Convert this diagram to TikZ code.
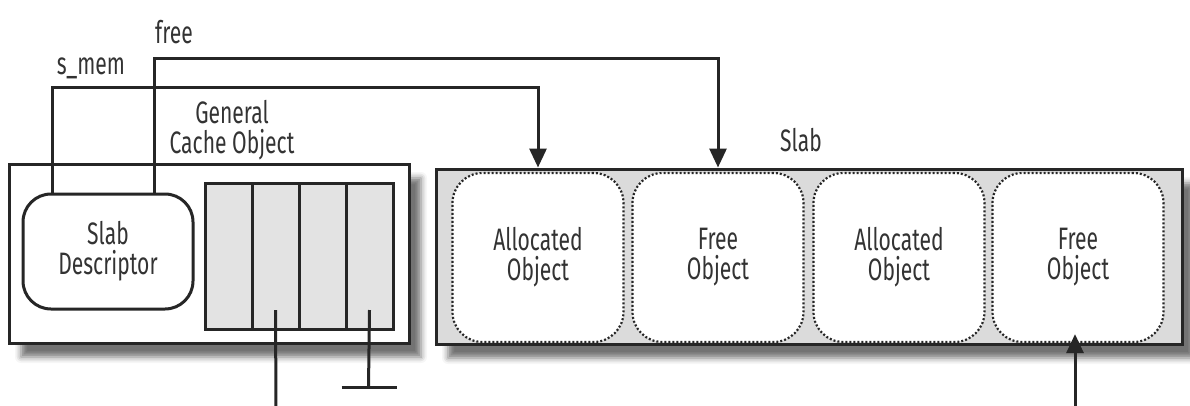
\documentclass[tikz,border=0pt]{standalone}
\usepackage{fontspec}
\setmainfont{Fira Sans}[FakeStretch=0.68]
\usetikzlibrary{arrows.meta,shadows.blur}
\begin{document}
\begin{tikzpicture}[x=1pt,y=-1pt,
  frame/.style={draw=black!85,line width=3pt},
  conn/.style={draw=black!85,line width=3pt},
  arr/.style={conn,-{Triangle[length=19pt,width=17pt]}},
  lbl/.style={text=black!80,font=\fontsize{31}{30}\selectfont,align=center,inner sep=0pt},
  obj/.style={draw=black!85,dash pattern=on 2pt off 2pt,line width=2.2pt,fill=white,
    rounded corners=30pt,minimum width=171pt,minimum height=169pt,lbl},
  cell/.style={frame,fill=black!11,minimum width=47pt,minimum height=146pt,inner sep=0pt},
  shadowed/.style={blur shadow={shadow xshift=12pt,shadow yshift=-14pt,shadow blur radius=6pt,shadow opacity=55}}]
\useasboundingbox (0,0) rectangle (1190,405);

% General cache object
\node[frame,fill=white,shadowed,minimum width=400pt,minimum height=179pt,inner sep=0pt] (gco) at (209,253.5) {};
\node[lbl] (gcolbl) at (232,130) {General\\Cache Object};
\node[frame,fill=white,rounded corners=28pt,minimum width=170pt,minimum height=115pt,lbl] (slabdesc) at (108,251.5) {Slab\\Descriptor};
\node[cell] (cell1) at (228.5,256) {};
\node[cell] (cell2) at (275.5,256) {};
\node[cell] (cell3) at (322.5,256) {};
\node[cell] (cell4) at (369.5,256) {};

% Slab
\node[frame,fill=black!14,shadowed,minimum width=746pt,minimum height=175pt,inner sep=0pt] (slab) at (809,256.5) {};
\node[lbl] (slablbl) at (801,140) {Slab};
\node[obj] (obj1) at (538,257.5) {Allocated\\Object};
\node[obj] (obj2) at (718,257.5) {Free\\Object};
\node[obj] (obj3) at (899,257.5) {Allocated\\Object};
\node[obj] (obj4) at (1078,257.5) {Free\\Object};

% labels
\node[lbl] (smemlbl) at (91,68) {s\_mem};
\node[lbl] (freelbl) at (174,32) {free};

% connectors
\coordinate (smemturn) at (538,87);
\coordinate (freeturn) at (718,58);
\draw[arr] ([xshift=-56pt]slabdesc.north) |- (smemturn) -- (obj1 |- slab.north);
\draw[arr] ([xshift=46pt]slabdesc.north) |- (freeturn) -- (obj2 |- slab.north);

\coordinate (bottomleft) at (276,408);
\coordinate (tee) at (368.5,387);
\coordinate (bottomright) at (1075,408);
\draw[conn] ([yshift=-54pt]cell2.center) -- (bottomleft);
\draw[conn] ([yshift=-54pt]cell4.center) -- (tee);
\draw[conn] (tee) +(-27,0) -- +(28,0);
\draw[arr] (bottomright) -- ([xshift=-3pt,yshift=9pt]obj4.south);
\end{tikzpicture}
\end{document}
